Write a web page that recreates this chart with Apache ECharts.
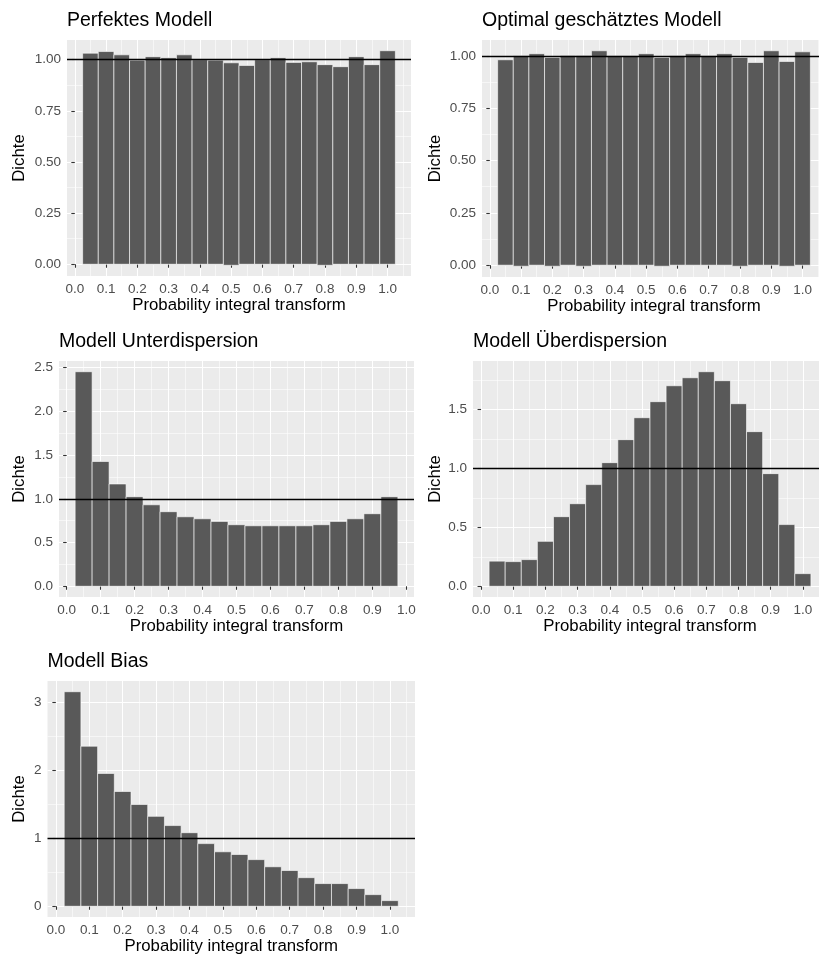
<!DOCTYPE html>
<html>
<head>
<meta charset="utf-8">
<script src="https://cdn.jsdelivr.net/npm/echarts@6/dist/echarts.min.js"></script>
<style>
  html, body { margin: 0; padding: 0; background: #fff; }
  #chart { width: 819px; height: 958px; }
</style>
</head>
<body>
<div id="chart"></div>
<script>
// histogram bins, width 0.05
var binWidth = 0.05;
var centers20 = [0.05, 0.10, 0.15, 0.20, 0.25, 0.30, 0.35, 0.40, 0.45, 0.50,
                 0.55, 0.60, 0.65, 0.70, 0.75, 0.80, 0.85, 0.90, 0.95, 1.00];
var centers19 = [0.05, 0.10, 0.15, 0.20, 0.25, 0.30, 0.35, 0.40, 0.45, 0.50,
                 0.55, 0.60, 0.65, 0.70, 0.75, 0.80, 0.85, 0.90, 0.95];

// densities
var perfektTop = [1.032, 1.040, 1.024, 0.998, 1.015, 1.010, 1.024, 1.000, 0.998, 0.985,
                  0.972, 1.000, 1.010, 0.987, 0.990, 0.976, 0.966, 1.015, 0.976, 1.044];
var perfektBottom = [0, 0, 0, 0, 0, 0, 0, 0, 0, -0.005,
                     0, 0, 0, 0, 0, -0.005, 0, 0, 0, 0];
var optimalTop = [0.981, 1.000, 1.010, 0.992, 1.002, 1.002, 1.024, 1.000, 1.000, 1.010,
                  0.992, 1.000, 1.010, 1.000, 1.010, 0.992, 0.968, 1.024, 0.973, 1.019];
var optimalBottom = [0, -0.005, 0, -0.005, 0, -0.005, 0, 0, 0, 0,
                     -0.005, 0, 0, 0, 0, -0.005, 0, 0, -0.005, 0];
var unterTop = [2.454, 1.427, 1.170, 1.025, 0.932, 0.853, 0.795, 0.772, 0.742, 0.704,
                0.692, 0.692, 0.692, 0.692, 0.704, 0.742, 0.772, 0.830, 1.025];
var ueberTop = [0.213, 0.209, 0.226, 0.381, 0.590, 0.700, 0.862, 1.048, 1.243, 1.429,
                1.565, 1.700, 1.768, 1.819, 1.743, 1.548, 1.311, 0.955, 0.523, 0.107];
var biasTop = [3.150, 2.350, 1.950, 1.685, 1.495, 1.320, 1.185, 1.080, 0.920, 0.800,
               0.760, 0.685, 0.580, 0.525, 0.420, 0.333, 0.333, 0.260, 0.171, 0.083];

// axis breaks
var xBreaks = [0, 0.1, 0.2, 0.3, 0.4, 0.5, 0.6, 0.7, 0.8, 0.9, 1.0];
var xMinor = [0.05, 0.15, 0.25, 0.35, 0.45, 0.55, 0.65, 0.75, 0.85, 0.95, 1.05];
var yBreaksUnif = [0, 0.25, 0.5, 0.75, 1.0];
var yMinorUnif = [0.125, 0.375, 0.625, 0.875];
var yBreaksUnter = [0, 0.5, 1.0, 1.5, 2.0, 2.5];
var yMinorUnter = [0.25, 0.75, 1.25, 1.75, 2.25];
var yBreaksUeber = [0, 0.5, 1.0, 1.5];
var yMinorUeber = [0.25, 0.75, 1.25, 1.75];
var yBreaksBias = [0, 1, 2, 3];
var yMinorBias = [0.5, 1.5, 2.5];

var FONT = '"Liberation Sans", Arial, Helvetica, sans-serif';

function zeros(n) { var a = []; for (var i = 0; i < n; i++) a.push(0); return a; }

var panels = [
  { title: 'Perfektes Modell', centers: centers20, top: perfektTop, bottom: perfektBottom,
    yBreaks: yBreaksUnif, yMinor: yMinorUnif, digits: 2,
    box: { left: 67, top: 40, width: 344, height: 236 }, nameX: 19 },
  { title: 'Optimal geschätztes Modell', centers: centers20, top: optimalTop, bottom: optimalBottom,
    yBreaks: yBreaksUnif, yMinor: yMinorUnif, digits: 2,
    box: { left: 482, top: 40, width: 344, height: 237 }, nameX: 435 },
  { title: 'Modell Unterdispersion', centers: centers19, top: unterTop, bottom: zeros(19),
    yBreaks: yBreaksUnter, yMinor: yMinorUnter, digits: 1,
    box: { left: 59, top: 361, width: 355, height: 236 }, nameX: 19 },
  { title: 'Modell Überdispersion', centers: centers20, top: ueberTop, bottom: zeros(20),
    yBreaks: yBreaksUeber, yMinor: yMinorUeber, digits: 1,
    box: { left: 473, top: 361, width: 354, height: 236 }, nameX: 435 },
  { title: 'Modell Bias', centers: centers20, top: biasTop, bottom: zeros(20),
    yBreaks: yBreaksBias, yMinor: yMinorBias, digits: 0,
    box: { left: 47.5, top: 681, width: 367.5, height: 236 }, nameX: 19 }
];

// ggplot-like 5% expansion
function expand(lo, hi) {
  var d = (hi - lo) * 0.05;
  return [lo - d, hi + d];
}

function renderBar(params, api) {
  var x = api.value(0);
  var p0 = api.coord([x - binWidth / 2, api.value(1)]);
  var p1 = api.coord([x + binWidth / 2, api.value(2)]);
  return {
    type: 'rect',
    shape: { x: p0[0], y: p0[1], width: p1[0] - p0[0], height: p1[1] - p0[1] },
    style: { fill: '#595959', stroke: '#ffffff', lineWidth: 0.6 }
  };
}

var grids = [], xAxes = [], yAxes = [], series = [], graphics = [];

panels.forEach(function (p, i) {
  var cs = p.centers;
  var xr = expand(cs[0] - binWidth / 2, cs[cs.length - 1] + binWidth / 2);
  var yr = expand(Math.min.apply(null, p.bottom), Math.max.apply(null, p.top));
  var xm = xMinor.filter(function (v) { return v > xr[0] && v < xr[1]; });

  grids.push({
    left: p.box.left, top: p.box.top, width: p.box.width, height: p.box.height,
    show: true, backgroundColor: '#EBEBEB', borderWidth: 0,
    containLabel: false, outerBoundsMode: 'none'
  });

  // major x axis
  xAxes.push({
    type: 'value', gridIndex: i, min: xr[0], max: xr[1],
    name: 'Probability integral transform', nameLocation: 'middle', nameGap: 21,
    nameTextStyle: { fontFamily: FONT, fontSize: 16.8, color: '#000' },
    axisLine: { show: false },
    axisTick: { show: true, length: 3.5, customValues: xBreaks, lineStyle: { color: '#333', width: 1.07 } },
    axisLabel: { customValues: xBreaks, margin: 6, color: '#4D4D4D', fontFamily: FONT, fontSize: 13.5,
      formatter: function (v) { return v.toFixed(1); } },
    splitLine: { show: true, lineStyle: { color: '#fff', width: 1.1 } }
  });
  // minor x grid
  xAxes.push({
    type: 'value', gridIndex: i, min: xr[0], max: xr[1], position: 'bottom',
    axisLine: { show: false },
    axisTick: { show: false, customValues: xm },
    axisLabel: { show: false, customValues: xm },
    splitLine: { show: true, lineStyle: { color: '#fff', width: 0.55 } }
  });

  yAxes.push({
    type: 'value', gridIndex: i, min: yr[0], max: yr[1],
    name: 'Dichte', nameLocation: 'middle', nameRotate: 90,
    nameGap: p.box.left - p.nameX - 9,
    nameTextStyle: { fontFamily: FONT, fontSize: 16.8, color: '#000' },
    axisLine: { show: false },
    axisTick: { show: true, length: 3.5, customValues: p.yBreaks, lineStyle: { color: '#333', width: 1.07 } },
    axisLabel: { customValues: p.yBreaks, margin: 6, color: '#4D4D4D', fontFamily: FONT, fontSize: 13.5,
      formatter: function (v) { return v.toFixed(p.digits); } },
    splitLine: { show: true, lineStyle: { color: '#fff', width: 1.1 } }
  });
  yAxes.push({
    type: 'value', gridIndex: i, min: yr[0], max: yr[1], position: 'left',
    axisLine: { show: false },
    axisTick: { show: false, customValues: p.yMinor },
    axisLabel: { show: false, customValues: p.yMinor },
    splitLine: { show: true, lineStyle: { color: '#fff', width: 0.55 } }
  });

  var rows = cs.map(function (c, k) { return [c, p.top[k], p.bottom[k]]; });
  series.push({
    type: 'custom', xAxisIndex: 2 * i, yAxisIndex: 2 * i,
    data: rows, encode: { x: 0, y: [1, 2] }, renderItem: renderBar, z: 3, silent: true
  });
  series.push({
    type: 'line', xAxisIndex: 2 * i, yAxisIndex: 2 * i, data: [], z: 5,
    markLine: {
      silent: true, symbol: 'none', animation: false,
      label: { show: false },
      lineStyle: { color: '#000', width: 1.3, type: 'solid' },
      data: [{ yAxis: 1 }]
    }
  });

  graphics.push({
    type: 'text', x: p.box.left, y: p.box.top - 19,
    style: { text: p.title, fontFamily: FONT, fontSize: 19.5, fill: '#000', verticalAlign: 'middle' }
  });
});

var chart = echarts.init(document.getElementById('chart'), null, { renderer: 'canvas' });
chart.setOption({
  animation: false,
  backgroundColor: '#fff',
  grid: grids,
  xAxis: xAxes,
  yAxis: yAxes,
  series: series,
  graphic: graphics
});
</script>
</body>
</html>
